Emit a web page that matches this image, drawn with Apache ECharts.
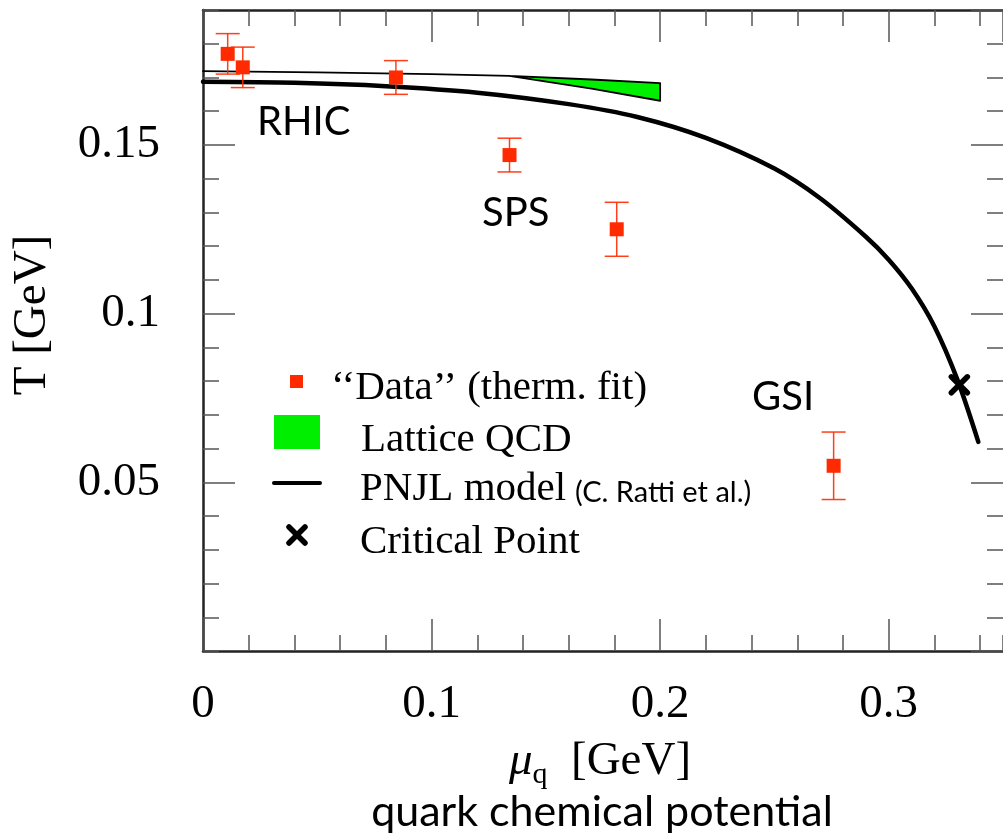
<!DOCTYPE html>
<html>
<head>
<meta charset="utf-8">
<script src="https://cdn.jsdelivr.net/npm/echarts@6/dist/echarts.min.js"></script>
<style>
html,body{margin:0;padding:0;background:#fff;}
#chart{width:1003px;height:836px;}
</style>
</head>
<body>
<div id="chart"></div>
<script>
// ---- Data ----
// thermal-fit "data" points (mu_q, T, error)
const dataMu  = [0.0108, 0.0174, 0.0844, 0.1341, 0.1810, 0.2759];
const dataT   = [0.1770, 0.1730, 0.1700, 0.1470, 0.1250, 0.0549];
const dataErr = [0.0060, 0.0060, 0.0050, 0.0050, 0.0080, 0.0100];

// PNJL model curve
const pnjlMu = [0, 0.04, 0.08, 0.12, 0.16, 0.19, 0.22, 0.25, 0.27, 0.29, 0.30, 0.31, 0.32, 0.33, 0.3392];
const pnjlT  = [0.1687, 0.1684, 0.1674, 0.1655, 0.1621, 0.1583, 0.1521, 0.1430, 0.1342, 0.1228, 0.1160, 0.1075, 0.0962, 0.0805, 0.0620];

// Lattice QCD band
const latticeMu    = [0, 0.05, 0.10, 0.134, 0.17, 0.20];
const latticeUpper = [0.1719, 0.1715, 0.1710, 0.1705, 0.1694, 0.1683];
const latticeLower = [0.1719, 0.1715, 0.1710, 0.1705, 0.1667, 0.1631];

// critical point
const criticalMu = [0.3309];
const criticalT  = [0.0789];

// region labels
const regionNames = ['RHIC', 'SPS', 'GSI'];

// axis texts
const xTickLabels = ['0', '0.1', '0.2', '0.3'];
const yTickLabels = ['0.05', '0.1', '0.15'];

const RED = '#ff2a00';
const SERIF = '"Liberation Serif", "DejaVu Serif", serif';
const SANS = 'Lato, "Open Sans", sans-serif';

const chart = echarts.init(document.getElementById('chart'), null, {renderer: 'canvas'});

const fmt = v => String(parseFloat(Number(v).toFixed(3)));
const xFmt = v => { const s = fmt(v); return xTickLabels.indexOf(s) >= 0 ? s : ''; };
const yFmt = v => { const s = fmt(v); return yTickLabels.indexOf(s) >= 0 ? s : ''; };

const tickStyle = {color: '#555', width: 1.5};
const frameStyle = {color: '#222', width: 2.5};

function xAxisDef(pos, interval, len, showLine, showLabel) {
  return {
    type: 'value', position: pos, min: 0, max: 0.35, interval: interval,
    axisLine: {show: showLine, onZero: false, lineStyle: frameStyle},
    axisTick: {show: true, inside: true, length: len, lineStyle: tickStyle},
    axisLabel: {show: showLabel, formatter: xFmt, showMaxLabel: false,
      fontFamily: SERIF, fontSize: 47, color: '#000', margin: 30},
    splitLine: {show: false}, minorTick: {show: false}
  };
}
function yAxisDef(pos, interval, len, showLine, showLabel) {
  return {
    type: 'value', position: pos, min: 0, max: 0.19, interval: interval,
    axisLine: {show: showLine, onZero: false, lineStyle: frameStyle},
    axisTick: {show: true, inside: true, length: len, lineStyle: tickStyle},
    axisLabel: {show: showLabel, formatter: yFmt, showMaxLabel: false, showMinLabel: false,
      fontFamily: SERIF, fontSize: 47, color: '#000', margin: 43},
    splitLine: {show: false}, minorTick: {show: false}
  };
}

const option = {
  animation: false,
  backgroundColor: '#fff',
  grid: {left: 203, top: 10, width: 800, height: 641, containLabel: false, outerBoundsMode: 'none', show: false},
  xAxis: [
    xAxisDef('bottom', 0.1, 32, true, true),
    xAxisDef('bottom', 0.02, 16, false, false),
    xAxisDef('top', 0.1, 32, true, false),
    xAxisDef('top', 0.02, 16, false, false)
  ],
  yAxis: [
    yAxisDef('left', 0.05, 32, true, true),
    yAxisDef('left', 0.01, 16, false, false),
    yAxisDef('right', 0.05, 32, false, false),
    yAxisDef('right', 0.01, 16, false, false)
  ],
  series: [
    {
      name: 'Lattice QCD', type: 'custom', xAxisIndex: 0, yAxisIndex: 0, z: 2,
      data: latticeMu.map((m, i) => [m, latticeUpper[i], latticeLower[i]]),
      renderItem: function (params, api) {
        if (params.dataIndex !== 0) return null;
        const pts = [];
        for (let i = 0; i < latticeMu.length; i++) pts.push(api.coord([latticeMu[i], latticeUpper[i]]));
        for (let i = latticeMu.length - 1; i >= 0; i--) pts.push(api.coord([latticeMu[i], latticeLower[i]]));
        return {type: 'polygon', shape: {points: pts},
          style: {fill: '#00ee00', stroke: '#000', lineWidth: 1.8, lineJoin: 'round'}};
      }
    },
    {
      name: 'PNJL model', type: 'line', xAxisIndex: 0, yAxisIndex: 0, z: 3,
      data: pnjlMu.map((m, i) => [m, pnjlT[i]]),
      smooth: 0.3, showSymbol: false, symbol: 'none',
      lineStyle: {color: '#000', width: 4.5, cap: 'round'}
    },
    {
      name: 'error bars', type: 'custom', xAxisIndex: 0, yAxisIndex: 0, z: 4,
      data: dataMu.map((m, i) => [m, dataT[i], dataErr[i]]),
      renderItem: function (params, api) {
        const x = api.value(0), y = api.value(1), e = api.value(2);
        const t = api.coord([x, y + e]), b = api.coord([x, y - e]);
        const hw = 12;
        const st = {stroke: '#ff2a00', lineWidth: 1.5, opacity: 0.9};
        return {type: 'group', children: [
          {type: 'line', shape: {x1: t[0], y1: t[1], x2: b[0], y2: b[1]}, style: st},
          {type: 'line', shape: {x1: t[0] - hw, y1: t[1], x2: t[0] + hw, y2: t[1]}, style: st},
          {type: 'line', shape: {x1: b[0] - hw, y1: b[1], x2: b[0] + hw, y2: b[1]}, style: st}
        ]};
      }
    },
    {
      name: '"Data" (therm. fit)', type: 'scatter', xAxisIndex: 0, yAxisIndex: 0, z: 5,
      data: dataMu.map((m, i) => [m, dataT[i]]),
      symbol: 'rect', symbolSize: 14,
      itemStyle: {color: RED, opacity: 1}
    },
    {
      name: 'Critical Point', type: 'custom', xAxisIndex: 0, yAxisIndex: 0, z: 6,
      data: criticalMu.map((m, i) => [m, criticalT[i]]),
      renderItem: function (params, api) {
        const p = api.coord([api.value(0), api.value(1)]);
        const a = 8;
        const st = {stroke: '#000', lineWidth: 5.5, lineCap: 'round'};
        return {type: 'group', children: [
          {type: 'line', shape: {x1: p[0] - a, y1: p[1] - a, x2: p[0] + a, y2: p[1] + a}, style: st},
          {type: 'line', shape: {x1: p[0] - a, y1: p[1] + a, x2: p[0] + a, y2: p[1] - a}, style: st}
        ]};
      }
    }
  ],
  graphic: [
    // region labels
    {type: 'text', left: 257, top: 102, z: 10, style: {text: regionNames[0], font: '40px ' + SANS, fill: '#000'}},
    {type: 'text', left: 482, top: 193, z: 10, style: {text: regionNames[1], font: '40px ' + SANS, fill: '#000'}},
    {type: 'text', left: 752, top: 377, z: 10, style: {text: regionNames[2], font: '40px ' + SANS, fill: '#000'}},
    // legend
    {type: 'rect', shape: {x: 290, y: 375, width: 13, height: 13}, style: {fill: RED}, z: 10},
    {type: 'text', x: 331, y: 388, z: 10, style: {text: '\u2018\u2018Data\u2019\u2019 (therm. fit)', font: '41px ' + SERIF, fill: '#000', verticalAlign: 'middle', align: 'left'}},
    {type: 'rect', shape: {x: 274, y: 415, width: 46, height: 34}, style: {fill: '#00ee00'}, z: 10},
    {type: 'text', x: 361, y: 440, z: 10, style: {text: 'Lattice QCD', font: '41px ' + SERIF, fill: '#000', verticalAlign: 'middle', align: 'left'}},
    {type: 'line', shape: {x1: 274, y1: 483, x2: 320, y2: 483}, style: {stroke: '#000', lineWidth: 4, lineCap: 'round'}, z: 10},
    {type: 'text', x: 360, y: 489, z: 10, style: {text: 'PNJL model', font: '41px ' + SERIF, fill: '#000', verticalAlign: 'middle', align: 'left'}},
    {type: 'text', x: 575, y: 493, z: 10, style: {text: '(C. Ratti et al.)', font: '29px ' + SANS, fill: '#000', verticalAlign: 'middle', align: 'left'}},
    {type: 'line', shape: {x1: 289, y1: 527, x2: 305, y2: 543}, style: {stroke: '#000', lineWidth: 5.5, lineCap: 'round'}, z: 10},
    {type: 'line', shape: {x1: 289, y1: 543, x2: 305, y2: 527}, style: {stroke: '#000', lineWidth: 5.5, lineCap: 'round'}, z: 10},
    {type: 'text', x: 360, y: 542, z: 10, style: {text: 'Critical Point', font: '41px ' + SERIF, fill: '#000', verticalAlign: 'middle', align: 'left'}},
    // axis names
    {type: 'text', x: 33, y: 315, rotation: Math.PI / 2, z: 10,
      style: {text: 'T [GeV]', font: '47px ' + SERIF, fill: '#000', align: 'center', verticalAlign: 'middle'}},
    {type: 'text', x: 600, y: 762, z: 10,
      style: {text: '{mu|\u03bc}{q|q}{n|  [GeV]}', align: 'center', verticalAlign: 'middle',
        rich: {
          mu: {font: 'italic 47px ' + SERIF, fill: '#000'},
          q: {font: '30px ' + SERIF, fill: '#000', padding: [26, 0, 0, 0]},
          n: {font: '47px ' + SERIF, fill: '#000'}
        }}},
    {type: 'text', x: 602, y: 812, z: 10,
      style: {text: 'quark chemical potential', font: '43px ' + SANS, fill: '#000', align: 'center', verticalAlign: 'middle'}}
  ]
};
chart.setOption(option);
</script>
</body>
</html>
